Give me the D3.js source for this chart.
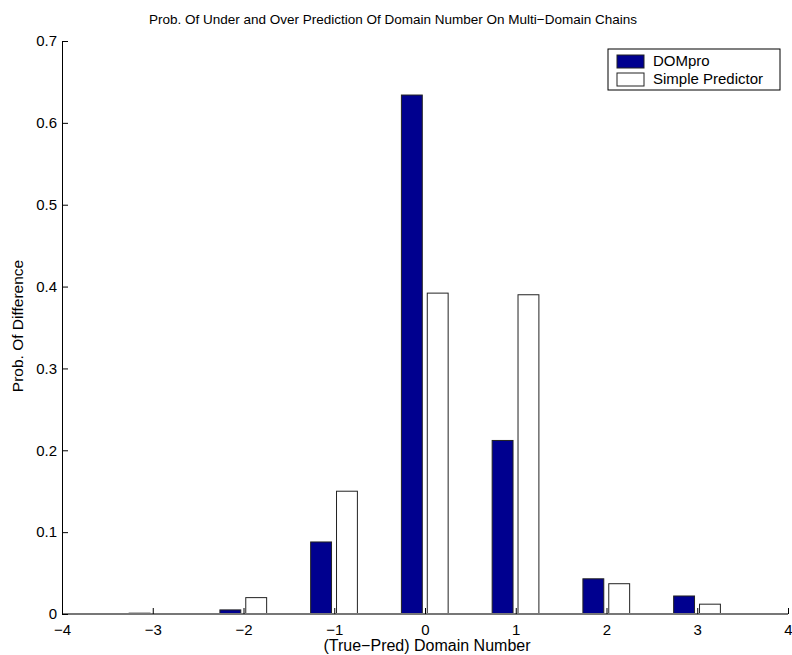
<!DOCTYPE html>
<html>
<head>
<meta charset="utf-8">
<script src="https://cdn.jsdelivr.net/npm/d3@7"></script>
<style>
  body { margin: 0; background: #fff; }
  text { font-family: "Liberation Sans", Arial, sans-serif; }
</style>
</head>
<body>
<div id="chart"></div>
<script>
var categories = [-3, -2, -1, 0, 1, 2, 3];
var dompro = [0.001, 0.005, 0.088, 0.634, 0.212, 0.043, 0.022];
var simple = [0.0005, 0.020, 0.150, 0.392, 0.390, 0.037, 0.012];
var seriesNames = ["DOMpro", "Simple Predictor"];
var xTicks = [-4, -3, -2, -1, 0, 1, 2, 3, 4];
var yTicks = [0, 0.1, 0.2, 0.3, 0.4, 0.5, 0.6, 0.7];

var margin = {top: 41, right: 4, bottom: 41, left: 62},
    width = 792 - margin.left - margin.right,
    height = 655 - margin.top - margin.bottom;

var svg = d3.select("#chart")
    .append("svg")
    .attr("width", 792)
    .attr("height", 655)
    .append("g")
    .attr("transform", "translate(" + margin.left + "," + margin.top + ")");

var x = d3.scaleLinear().domain([-4, 4]).range([0, width]);
var y = d3.scaleLinear().domain([0, 0.7]).range([height, 0]);

var barW = 0.23;
var offsets = [-0.145, 0.14];
var colors = ["#00008f", "#ffffff"];

// bars
[dompro, simple].forEach(function (vals, s) {
    svg.selectAll(".bar" + s)
        .data(categories)
        .enter()
        .append("rect")
        .attr("x", function (d) { return x(d + offsets[s] - barW / 2); })
        .attr("y", function (d, i) { return y(vals[i]); })
        .attr("width", x(barW) - x(0))
        .attr("height", function (d, i) { return height - y(vals[i]); })
        .attr("fill", colors[s])
        .attr("stroke", "#222")
        .attr("stroke-width", 1);
});

// baseline
svg.append("line")
    .attr("x1", 0).attr("x2", width)
    .attr("y1", height).attr("y2", height)
    .attr("stroke", "#777").attr("stroke-width", 2);

// x axis
var xAxis = svg.append("g")
    .attr("transform", "translate(0," + height + ")")
    .call(d3.axisBottom(x).tickValues(xTicks).tickSizeInner(-6).tickSizeOuter(0)
        .tickPadding(10).tickFormat(function (d) { return d < 0 ? "\u2212" + Math.abs(d) : d; }));
xAxis.select(".domain").remove();
xAxis.selectAll("line").attr("stroke", "#000");
xAxis.selectAll("text").style("font-size", "15px").attr("fill", "#000");

// y axis
var yAxis = svg.append("g")
    .call(d3.axisLeft(y).tickValues(yTicks).tickSizeInner(-6).tickSizeOuter(0)
        .tickPadding(5).tickFormat(function (d) { return d === 0 ? "0" : d3.format(".1f")(d); }));
yAxis.select(".domain").attr("stroke", "#000");
yAxis.selectAll("line").attr("stroke", "#000");
yAxis.selectAll("text").style("font-size", "15px").attr("fill", "#000");

// title and labels
svg.append("text")
    .attr("x", width / 2 - 32)
    .attr("y", -17)
    .attr("text-anchor", "middle")
    .style("font-size", "13.5px")
    .text("Prob. Of Under and Over Prediction Of Domain Number On Multi\u2212Domain Chains");

svg.append("text")
    .attr("x", width / 2 + 2)
    .attr("y", height + 37)
    .attr("text-anchor", "middle")
    .style("font-size", "16px")
    .text("(True\u2212Pred) Domain Number");

svg.append("text")
    .attr("transform", "rotate(-90)")
    .attr("x", -285)
    .attr("y", -39)
    .attr("text-anchor", "middle")
    .style("font-size", "15.5px")
    .text("Prob. Of Difference");

// legend
var legend = svg.append("g").attr("transform", "translate(546,8)");
legend.append("rect")
    .attr("width", 172).attr("height", 41)
    .attr("fill", "#fff").attr("stroke", "#000");
seriesNames.forEach(function (name, i) {
    legend.append("rect")
        .attr("x", 9).attr("y", 6 + i * 18)
        .attr("width", 27).attr("height", 13)
        .attr("fill", colors[i]).attr("stroke", "#222");
    legend.append("text")
        .attr("x", 45).attr("y", 17 + i * 18)
        .style("font-size", "15px")
        .text(name);
});
</script>
</body>
</html>
